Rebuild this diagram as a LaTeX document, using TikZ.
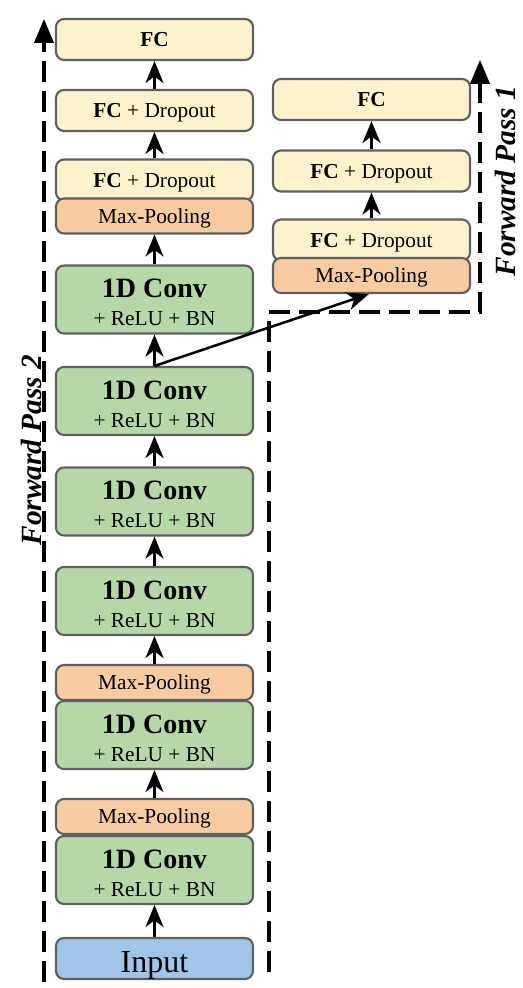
\documentclass[tikz,border=0pt]{standalone}
\usepackage{fontspec}
\setmainfont{Liberation Serif}
\usetikzlibrary{arrows.meta}
\definecolor{fcfill}{HTML}{FFF2CC}
\definecolor{mpfill}{HTML}{F8CBA0}
\definecolor{convfill}{HTML}{B6D7A8}
\definecolor{infill}{HTML}{9FC5E8}
\definecolor{bordc}{HTML}{5F5F5F}
\tikzset{
  blk/.style={draw=bordc, line width=1.6pt, rounded corners=6pt, minimum width=147.75pt, inner sep=0pt, align=center, font=\fontsize{16}{21}\selectfont},
  fcbox/.style={blk, fill=fcfill, minimum height=30.75pt, text height=11.25pt, text depth=0pt},
  mpbox/.style={blk, fill=mpfill, minimum height=26.25pt, text height=10.5pt, text depth=0pt},
  convbox/.style={blk, fill=convfill, minimum height=51pt},
  inbox/.style={blk, fill=infill, minimum height=30.75pt, text height=20.25pt, text depth=0pt, font=\fontsize{24}{28}\selectfont},
  arr/.style={line width=1.9pt, -{Stealth[length=16.5pt, width=13.5pt, inset=5pt]}},
  fpass/.style={line width=2.3pt, dash pattern=on 15.75pt off 6.75pt, -{Triangle[length=18pt, width=14.5pt]}},
  fplabel/.style={rotate=90, font=\fontsize{22}{26}\selectfont\bfseries\itshape, inner sep=0pt}
}
\newcommand{\convtext}{{\fontsize{21}{21}\selectfont\bfseries\rule{0pt}{18.5pt}1D Conv}\\+ ReLU + BN}
\begin{document}
\begin{tikzpicture}[x=0.75pt,y=-0.75pt]
\useasboundingbox (0,0) rectangle (523,988);
% left column
\node[fcbox] (fc3) at (154.5,39.5) {\textbf{FC}};
\node[fcbox] (fc2) at (154.5,110.5) {\textbf{FC} + Dropout};
\node[fcbox] (fc1) at (154.5,180) {\textbf{FC} + Dropout};
\node[mpbox] (mp3) at (154.5,216) {Max-Pooling};
\node[convbox] (conv6) at (154.5,299.5) {\convtext};
\node[convbox] (conv5) at (154.5,401) {\convtext};
\node[convbox] (conv4) at (154.5,501.5) {\convtext};
\node[convbox] (conv3) at (154.5,601) {\convtext};
\node[mpbox] (mp2) at (154.5,682.5) {Max-Pooling};
\node[convbox] (conv2) at (154.5,735) {\convtext};
\node[mpbox] (mp1) at (154.5,816.5) {Max-Pooling};
\node[convbox] (conv1) at (154.5,870) {\convtext};
\node[inbox] (input) at (154.5,958.5) {Input};
% right column
\node[fcbox] (rfc3) at (371.5,99.5) {\textbf{FC}};
\node[fcbox] (rfc2) at (371.5,171) {\textbf{FC} + Dropout};
\node[fcbox] (rfc1) at (371.5,240) {\textbf{FC} + Dropout};
\node[mpbox] (rmp) at (371.5,275.5) {Max-Pooling};
% arrows
\draw[arr] (input.north) -- (conv1.south);
\draw[arr] (mp1.north) -- (conv2.south);
\draw[arr] (mp2.north) -- (conv3.south);
\draw[arr] (conv3.north) -- (conv4.south);
\draw[arr] (conv4.north) -- (conv5.south);
\draw[arr] (conv5.north) -- (conv6.south);
\draw[arr] (conv6.north) -- (mp3.south);
\draw[arr] (fc1.north) -- (fc2.south);
\draw[arr] (fc2.north) -- (fc3.south);
\draw[arr] (rfc1.north) -- (rfc2.south);
\draw[arr] (rfc2.north) -- (rfc3.south);
% forward passes
\coordinate (fp2s) at (44,982);
\coordinate (fp2e) at (44,19);
\coordinate (fp1s) at (269,972);
\coordinate (fp1a) at (269,312);
\coordinate (fp1b) at (480,312);
\coordinate (fp1e) at (480,60);
\draw[fpass] (fp2s) -- (fp2e);
\draw[fpass] (fp1s) -- (fp1a) -- (fp1b) -- (fp1e);
\draw[arr] (conv5.north) -- ([xshift=-2pt]rmp.south);
\node[fplabel] (lab2) at (31,450) {Forward Pass 2};
\node[fplabel] (lab1) at (505,181) {Forward Pass 1};
\end{tikzpicture}
\end{document}
